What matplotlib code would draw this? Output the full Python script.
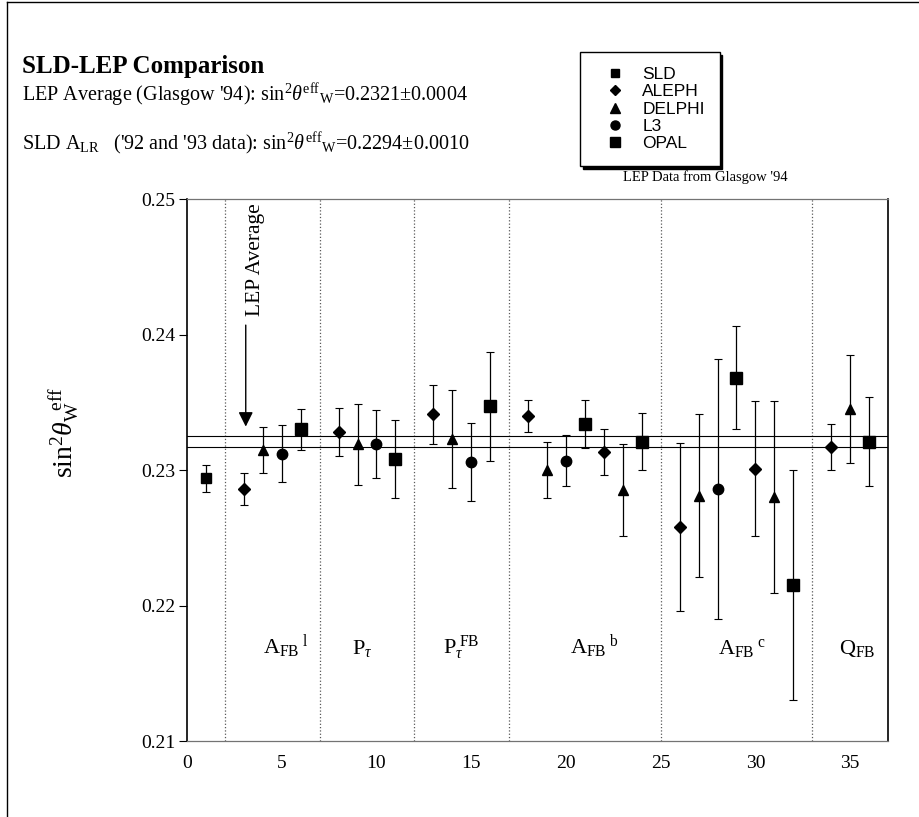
import matplotlib
matplotlib.use("Agg")
import matplotlib.pyplot as plt
from matplotlib.lines import Line2D

plt.rcParams['font.family'] = ['Liberation Serif', 'DejaVu Serif']
plt.rcParams['mathtext.fontset'] = 'custom'
plt.rcParams['mathtext.rm'] = 'Liberation Serif'
plt.rcParams['mathtext.it'] = 'Liberation Serif:italic'
plt.rcParams['mathtext.bf'] = 'Liberation Serif:bold'

# measurements: x index, sin^2 theta_eff, error
sld_x = [1]
sld_y = [0.2294]
sld_err = [0.0010]

aleph_x = [3, 8, 13, 18, 22, 26, 30, 34]
aleph_y = [0.2286, 0.2328, 0.2341, 0.2340, 0.2313, 0.2258, 0.2301, 0.2317]
aleph_err = [0.0012, 0.0018, 0.0022, 0.0012, 0.0017, 0.0062, 0.0050, 0.0017]

delphi_x = [4, 9, 14, 19, 23, 27, 31, 35]
delphi_y = [0.2315, 0.2319, 0.2323, 0.2300, 0.2285, 0.2281, 0.2280, 0.2345]
delphi_err = [0.0017, 0.0030, 0.0036, 0.0021, 0.0034, 0.0060, 0.0071, 0.0040]

l3_x = [5, 10, 15, 20, 28]
l3_y = [0.2312, 0.2319, 0.2306, 0.2307, 0.2286]
l3_err = [0.0021, 0.0025, 0.0029, 0.0019, 0.0096]

opal_x = [6, 11, 16, 21, 24, 29, 32, 36]
opal_y = [0.2330, 0.2308, 0.2347, 0.2334, 0.2321, 0.2368, 0.2215, 0.2321]
opal_err = [0.0015, 0.0029, 0.0040, 0.0018, 0.0021, 0.0038, 0.0085, 0.0033]

lep_avg = 0.2321
lep_err = 0.0004

section_edges = [2, 7, 12, 17, 25, 33]
section_labels = [r'$\mathrm{A}_{\mathrm{FB}}{}^{\ \mathrm{l}}$',
                  r'$\mathrm{P}_{\tau}$',
                  r'$\mathrm{P}_{\tau}^{\ \mathrm{FB}}$',
                  r'$\mathrm{A}_{\mathrm{FB}}{}^{\ \mathrm{b}}$',
                  r'$\mathrm{A}_{\mathrm{FB}}{}^{\ \mathrm{c}}$',
                  r'$\mathrm{Q}_{\mathrm{FB}}$']
section_label_x = [4.0, 8.7, 13.5, 20.2, 28.0, 34.4]

fig = plt.figure(figsize=(9.19, 8.17), dpi=100)
ax = fig.add_axes([0.2035, 0.093, 0.7628, 0.6634])

series = [
    ('SLD', sld_x, sld_y, sld_err, 's', 7),
    ('ALEPH', aleph_x, aleph_y, aleph_err, 'D', 6),
    ('DELPHI', delphi_x, delphi_y, delphi_err, '^', 7.5),
    ('L3', l3_x, l3_y, l3_err, 'o', 7.5),
    ('OPAL', opal_x, opal_y, opal_err, 's', 8),
]
handles = []
for name, xs, ys, es, mk, ms in series:
    ax.errorbar(xs, ys, yerr=es, fmt=mk, ms=ms, color='black', ecolor='black',
                elinewidth=0.9, capsize=3, capthick=0.8, zorder=3)
    handles.append(Line2D([], [], ls='none', marker=mk, ms=ms - 1, color='black', label=name))

# LEP average band
ax.axhline(lep_avg + lep_err, color='black', lw=0.8, zorder=2)
ax.axhline(lep_avg - lep_err, color='black', lw=0.8, zorder=2)

# section separators and labels
for xe in section_edges:
    ax.axvline(xe, color='0.35', ls=':', lw=0.9, zorder=1)
for lx, lab in zip(section_label_x, section_labels):
    ax.text(lx, 0.2164, lab, fontsize=16, va='baseline', ha='left')

# LEP average arrow
ax.annotate('', xy=(3.1, 0.2330), xytext=(3.1, 0.2409),
            arrowprops=dict(arrowstyle='-|>', color='black', lw=1.0, mutation_scale=22))
ax.text(3.6, 0.2455, 'LEP Average', rotation=90, fontsize=15.5, ha='center', va='center')

ax.set_xlim(0, 37)
ax.set_ylim(0.21, 0.25)
ax.set_xticks([0, 5, 10, 15, 20, 25, 30, 35])
ax.set_yticks([0.21, 0.22, 0.23, 0.24, 0.25])
ax.set_yticklabels(['0.21', '0.22', '0.23', '0.24', '0.25'])
ax.tick_params(axis='y', direction='out', length=5.5, width=0.8, labelsize=14, pad=3)
ax.tick_params(axis='x', length=0, labelsize=14, pad=10)
for side in ['top', 'bottom']:
    ax.spines[side].set_color('0.45')
    ax.spines[side].set_linewidth(0.9)
ax.spines['left'].set_linewidth(1.2)
ax.spines['right'].set_linewidth(1.2)

ax.set_ylabel(r'$\mathrm{sin}^2\theta_{\mathrm{W}}^{\ \ \mathrm{eff}}$', fontsize=20)
ax.yaxis.set_label_coords(-0.15, 0.57)

# header texts
fig.text(0.024, 0.911, 'SLD-LEP Comparison', fontsize=18, fontweight='bold', va='baseline')
fig.text(0.024, 0.876,
         r"LEP Average (Glasgow '94): $\mathrm{sin}^2\theta^{\mathrm{eff}}{}_{\mathrm{W}}$=0.2321$\pm$0.0004",
         fontsize=14.5, va='baseline')
fig.text(0.024, 0.8165,
         r"SLD $\mathrm{A}_{\mathrm{LR}}$   ('92 and '93 data): $\mathrm{sin}^2\theta^{\mathrm{eff}}{}_{\mathrm{W}}$=0.2294$\pm$0.0010",
         fontsize=14.5, va='baseline')
fig.text(0.768, 0.779, "LEP Data from Glasgow '94", fontsize=10.5, ha='center', va='baseline')

leg = fig.legend(handles=handles, loc='upper left', bbox_to_anchor=(0.631, 0.936),
                 borderaxespad=0, frameon=True, fancybox=False,
                 shadow={'color': 'black', 'alpha': 1},
                 prop={'family': 'Liberation Sans', 'size': 12.5},
                 labelspacing=0.12, handletextpad=0.45, borderpad=0.85, handlelength=2.3)
leg.get_frame().set_edgecolor('black')
leg.get_frame().set_linewidth(1.0)
leg.set_zorder(10)

# page border
fig.add_artist(Line2D([0.0075, 0.0075], [0.0, 0.997], color='black', lw=1.0))
fig.add_artist(Line2D([0.0075, 1.0], [0.997, 0.997], color='black', lw=1.0))

fig.savefig('out.png', dpi=100)
